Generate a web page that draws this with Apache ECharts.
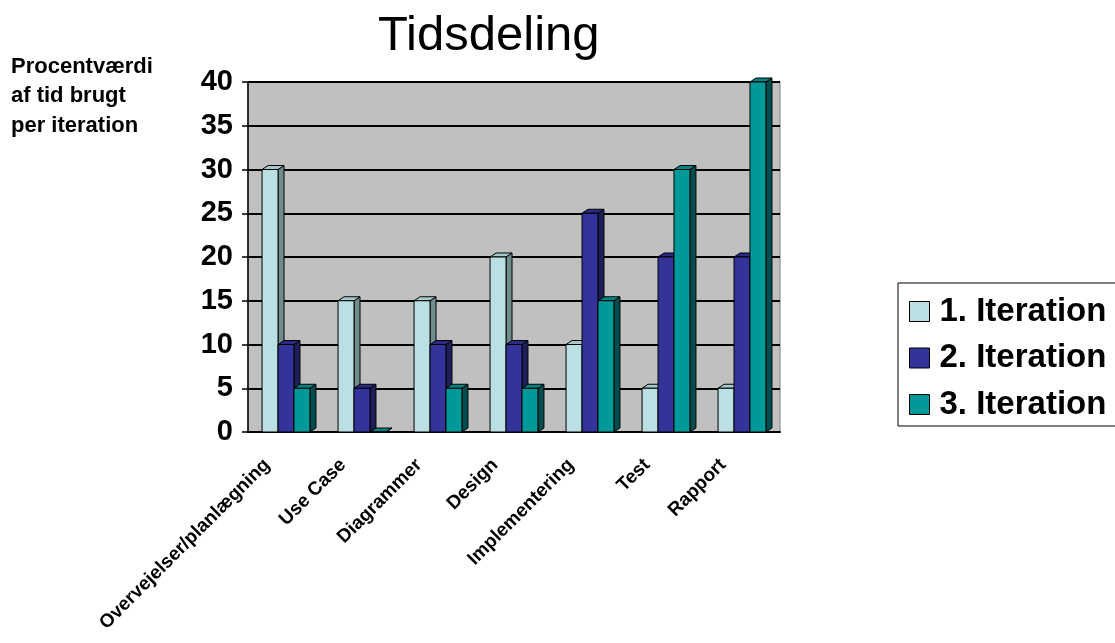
<!DOCTYPE html>
<html>
	<head>
		<meta http-equiv="Content-Type" content="text/html; charset=utf-8" />
		<title>Tidsdeling</title>
		<script type="text/javascript" src="https://cdn.jsdelivr.net/npm/echarts@6/dist/echarts.min.js"></script>
		<style>
			html, body { margin: 0; padding: 0; background: #fff; }
		</style>
	</head>
	<body>
		<div id="infoChart" style="width:1115px; height:643px;"></div>
		<script type="text/javascript">
			// data
			var categories = ['Overvejelser/planlægning', 'Use Case', 'Diagrammer', 'Design', 'Implementering', 'Test', 'Rapport'];
			var iteration1 = [30, 15, 15, 20, 10, 5, 5];
			var iteration2 = [10, 5, 10, 10, 25, 20, 20];
			var iteration3 = [5, 0, 5, 5, 15, 30, 40];
			var seriesNames = ['1. Iteration', '2. Iteration', '3. Iteration'];

			var FONT = "'Liberation Sans', Arial, sans-serif";
			var faces = [
				{front: '#BBE0E3', side: '#6F8C8E', top: '#A4C8CB'},
				{front: '#333399', side: '#1E1E5A', top: '#2B2B85'},
				{front: '#009999', side: '#004E4E', top: '#008484'}
			];

			function toPairs(arr) {
				return arr.map(function (v, i) { return [i, v]; });
			}

			// 3d look bar, drawn from the axis coords
			function bar3d(idx) {
				return function (params, api) {
					var cat = api.value(0), val = api.value(1);
					var base = api.coord([cat, 0]);
					var peak = api.coord([cat, val]);
					var band = api.size([1, 0])[0];
					var w = band * 0.21;
					var x0 = base[0] - 1.5 * w + idx * w;
					var dx = 6, dy = 4;
					var c = faces[idx];
					var stroke = {stroke: '#000', lineWidth: 1};
					return {
						type: 'group',
						children: [
							{
								type: 'polygon',
								shape: {points: [[x0 + w, peak[1]], [x0 + w + dx, peak[1] - dy], [x0 + w + dx, base[1] - dy], [x0 + w, base[1]]]},
								style: Object.assign({fill: c.side}, stroke)
							},
							{
								type: 'polygon',
								shape: {points: [[x0, peak[1]], [x0 + dx, peak[1] - dy], [x0 + w + dx, peak[1] - dy], [x0 + w, peak[1]]]},
								style: Object.assign({fill: c.top}, stroke)
							},
							{
								type: 'rect',
								shape: {x: x0, y: peak[1], width: w, height: base[1] - peak[1]},
								style: Object.assign({fill: c.front}, stroke)
							}
						]
					};
				};
			}

			var allSeries = [iteration1, iteration2, iteration3].map(function (arr, idx) {
				return {
					name: seriesNames[idx],
					type: 'custom',
					xAxisIndex: 0,
					yAxisIndex: 0,
					renderItem: bar3d(idx),
					itemStyle: {color: faces[idx].front},
					encode: {x: 0, y: 1},
					data: toPairs(arr)
				};
			});

			var option = {
				animation: false,
				textStyle: {fontFamily: FONT},
				title: [
					{
						text: 'Tidsdeling',
						left: 378,
						top: 12,
						padding: 0,
						textStyle: {fontFamily: FONT, fontSize: 49, fontWeight: 'normal', color: '#000'}
					},
					{
						text: 'Procentværdi\naf tid brugt\nper iteration',
						left: 11,
						top: 52,
						padding: 0,
						textStyle: {fontFamily: FONT, fontSize: 22, fontWeight: 'bold', color: '#000', lineHeight: 29.5}
					}
				],
				legend: {
					orient: 'vertical',
					left: 898,
					top: 283,
					data: seriesNames,
					icon: 'rect',
					itemWidth: 20,
					itemHeight: 20,
					itemGap: 13.5,
					padding: [12, 60, 5, 11],
					borderColor: '#000',
					borderWidth: 1,
					itemStyle: {borderColor: '#000', borderWidth: 1},
					textStyle: {fontFamily: FONT, fontSize: 33, fontWeight: 'bold', color: '#000', lineHeight: 33, padding: [0, 0, 0, 5]}
				},
				grid: [
					{left: 248, right: 335, top: 82, bottom: 211, show: true, backgroundColor: '#C0C0C0', borderColor: '#808080', borderWidth: 1},
					{left: 229, right: 354, top: 82, bottom: 211}
				],
				xAxis: [
					{
						type: 'category',
						gridIndex: 0,
						data: categories,
						axisLine: {lineStyle: {color: '#000', width: 2}},
						axisTick: {length: 7, lineStyle: {color: '#000', width: 1.5}},
						axisLabel: {show: false},
						splitLine: {show: false}
					},
					{
						// labels only
						type: 'category',
						gridIndex: 1,
						data: categories,
						axisLine: {show: false},
						axisTick: {show: false},
						axisLabel: {rotate: 45, margin: 30, interval: 0, fontFamily: FONT, fontSize: 19, fontWeight: 'bold', color: '#000'}
					}
				],
				yAxis: [
					{
						type: 'value',
						gridIndex: 0,
						min: 0,
						max: 40,
						interval: 5,
						axisLine: {show: true, lineStyle: {color: '#000', width: 1.5}},
						axisTick: {show: true, length: 6, lineStyle: {color: '#000', width: 1.5}},
						axisLabel: {margin: 15, fontFamily: FONT, fontSize: 29, fontWeight: 'bold', color: '#000'},
						splitLine: {lineStyle: {color: '#000', width: 2}}
					},
					{
						type: 'value',
						gridIndex: 1,
						min: 0,
						max: 40,
						show: false
					}
				],
				series: allSeries
			};

			var mychart = echarts.init(document.getElementById('infoChart'));
			mychart.setOption(option);
		</script>
	</body>
</html>
